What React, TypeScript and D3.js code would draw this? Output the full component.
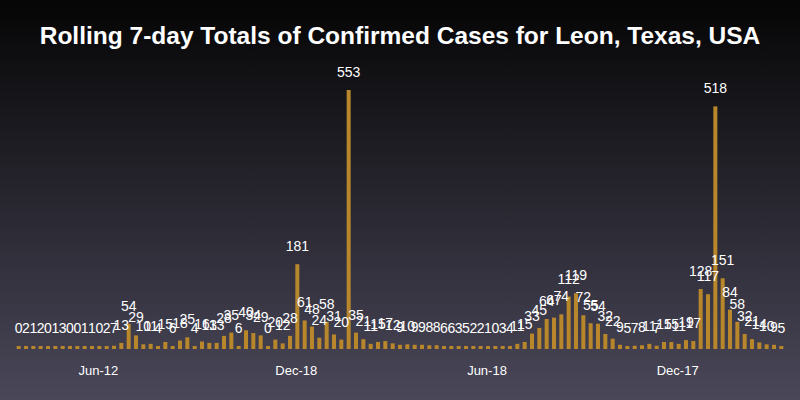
import React from 'react'
import * as d3 from 'd3'

const startDate = new Date(2020, 2, 27)
const cases = [
  0, 2, 1, 2, 0, 1, 3, 0, 0, 1, 1, 0, 2, 7, 13, 54, 29, 10, 11, 4, 15, 6, 18, 25, 4, 16, 13, 13, 28, 35, 6, 40, 34, 29,
  0, 20, 12, 28, 181, 61, 48, 24, 58, 31, 20, 553, 35, 21, 11, 15, 17, 12, 9, 10, 9, 9, 8, 8, 6, 6, 3, 5, 2, 2, 1, 0, 3, 4, 11, 15,
  33, 45, 64, 67, 74, 112, 119, 72, 55, 54, 32, 22, 9, 5, 7, 8, 11, 7, 15, 15, 11, 19, 17, 128, 117, 518, 151, 84, 58, 32, 21, 14, 10, 9, 5,
]
const tickDates = [new Date(2020, 5, 12), new Date(2020, 11, 18), new Date(2021, 5, 18), new Date(2021, 11, 17)]
const tickFmt = d3.timeFormat('%b-%d')

const W = 800
const H = 400
const DAY = 86400000

export default function App() {
  const dates = cases.map((_, i) => new Date(startDate.getTime() + i * 7 * DAY))
  const x = d3.scaleTime()
    .domain([new Date(startDate.getTime() - 3.5 * DAY), new Date(dates[dates.length - 1].getTime() + 3.5 * DAY)])
    .range([15, 785])
  const y = d3.scaleLinear().domain([0, 553]).range([349, 90])
  const bw = 4

  return (
    <svg width={W} height={H} style={{ position: 'absolute', left: 0, top: 0 }} fontFamily="Liberation Sans, Arial, sans-serif">
      <defs>
        <linearGradient id="bg" x1="0" y1="0" x2="0" y2="1">
          <stop offset="0" stopColor="#050505" />
          <stop offset="1" stopColor="#4a4759" />
        </linearGradient>
      </defs>
      <rect width={W} height={H} fill="url(#bg)" />
      <text x={W / 2} y={44} textAnchor="middle" fill="#fff" fontSize={24.5} fontWeight="bold">
        Rolling 7-day Totals of Confirmed Cases for Leon, Texas, USA
      </text>
      {cases.map((v, i) => {
        const h = Math.max(3, y(0) - y(v))
        return <rect key={i} x={x(dates[i]) - bw / 2} y={y(0) - h} width={bw} height={h} fill="#b8862b" />
      })}
      {cases.map((v, i) => (
        <text key={'l' + i} x={x(dates[i])} y={Math.min(y(v), y(0) - 3) - 13} textAnchor="middle" fill="#fff" fontSize={14}>
          {v}
        </text>
      ))}
      {tickDates.map((d, i) => (
        <text key={'t' + i} x={x(d) - 1} y={375} textAnchor="middle" fill="#fff" fontSize={13}>
          {tickFmt(d)}
        </text>
      ))}
    </svg>
  )
}
